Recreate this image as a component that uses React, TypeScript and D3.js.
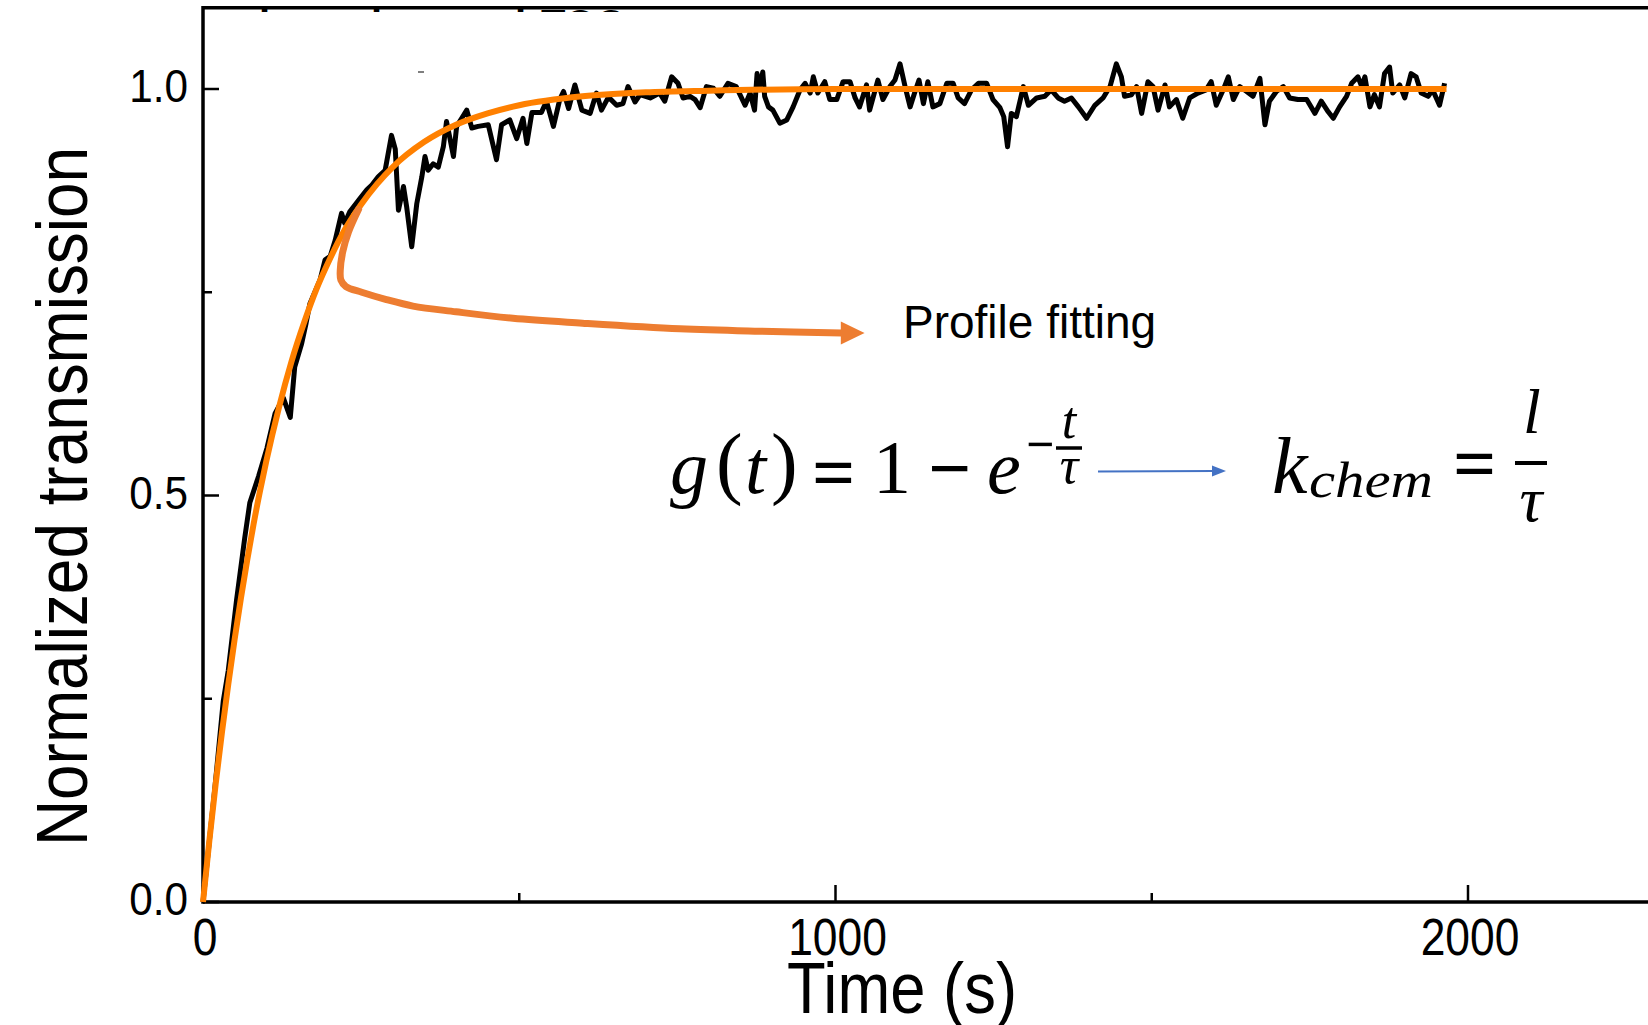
import React from 'react';
import * as d3 from 'd3';

// Measured trace (time in s, normalized transmission)
const timeSec = [0, 19, 32, 40, 53, 66, 74, 88, 101, 114, 127, 138, 145, 156, 163, 169, 185, 193, 201, 209, 219, 224, 232, 246, 259, 267, 277, 288, 298, 304, 309, 317, 322, 330, 338, 346, 351, 356, 364, 372, 380, 385, 390, 396, 401, 409, 417, 425, 435, 451, 464, 472, 485, 496, 506, 512, 520, 535, 543, 554, 564, 570, 578, 588, 599, 612, 622, 630, 641, 654, 664, 672, 683, 691, 707, 722, 730, 741, 751, 759, 770, 778, 786, 796, 807, 817, 830, 843, 857, 865, 872, 876, 880, 885, 888, 894, 901, 912, 923, 933, 944, 952, 960, 965, 972, 983, 991, 1002, 1012, 1023, 1031, 1038, 1049, 1054, 1067, 1075, 1086, 1094, 1102, 1110, 1118, 1125, 1132, 1139, 1146, 1154, 1165, 1176, 1186, 1194, 1204, 1215, 1226, 1239, 1249, 1260, 1266, 1272, 1278, 1286, 1297, 1305, 1318, 1331, 1341, 1352, 1362, 1373, 1384, 1397, 1410, 1423, 1434, 1444, 1452, 1457, 1468, 1476, 1484, 1494, 1502, 1510, 1521, 1528, 1539, 1549, 1560, 1573, 1586, 1594, 1602, 1613, 1621, 1629, 1639, 1650, 1660, 1671, 1679, 1686, 1697, 1708, 1718, 1731, 1745, 1758, 1768, 1779, 1787, 1797, 1808, 1816, 1826, 1832, 1837, 1845, 1852, 1860, 1868, 1876, 1881, 1892, 1900, 1910, 1918, 1926, 1937, 1944, 1955, 1963];
const transmission = [0, 0.142, 0.247, 0.285, 0.371, 0.448, 0.491, 0.524, 0.558, 0.601, 0.62, 0.596, 0.658, 0.687, 0.712, 0.736, 0.765, 0.79, 0.794, 0.814, 0.847, 0.835, 0.849, 0.863, 0.876, 0.882, 0.892, 0.9, 0.943, 0.926, 0.851, 0.88, 0.855, 0.806, 0.859, 0.892, 0.917, 0.9, 0.908, 0.904, 0.929, 0.96, 0.941, 0.917, 0.954, 0.964, 0.974, 0.952, 0.954, 0.956, 0.913, 0.956, 0.962, 0.939, 0.964, 0.933, 0.971, 0.971, 0.985, 0.954, 0.987, 0.997, 0.976, 1.005, 0.974, 0.97, 0.995, 0.974, 0.99, 0.98, 0.982, 1.003, 0.984, 0.993, 0.989, 0.995, 0.985, 1.015, 1.007, 0.989, 0.991, 0.987, 0.977, 1.003, 1.001, 0.991, 1.007, 1.003, 0.98, 0.995, 0.974, 1.019, 0.999, 1.021, 0.991, 0.978, 0.974, 0.958, 0.962, 0.978, 0.999, 1.007, 0.995, 1.015, 0.995, 1.009, 0.987, 0.987, 1.009, 1.009, 0.989, 0.978, 1.005, 0.974, 1.011, 0.987, 1.003, 1.011, 1.031, 1.003, 0.978, 0.995, 1.011, 0.982, 1.009, 0.978, 0.982, 1.007, 1.007, 0.989, 0.982, 0.999, 1.007, 1.007, 0.987, 0.977, 0.966, 0.929, 0.97, 0.966, 1.003, 0.98, 0.989, 0.991, 0.999, 0.989, 0.985, 0.989, 0.978, 0.964, 0.98, 0.989, 1.003, 1.031, 1.015, 0.991, 0.993, 1.003, 0.97, 1.009, 1.003, 0.974, 1.005, 0.978, 0.987, 0.964, 0.989, 0.995, 0.999, 1.009, 0.98, 0.999, 1.015, 0.987, 1.003, 0.997, 0.991, 1.013, 0.956, 0.985, 0.997, 1.003, 0.989, 0.987, 0.987, 0.97, 0.985, 0.972, 0.964, 0.978, 0.991, 1.007, 1.015, 1.003, 1.015, 0.978, 0.993, 0.978, 1.019, 1.027, 0.995, 1.005, 0.989, 1.019, 1.015, 0.995, 0.991, 0.999, 0.98, 1.007];

// Profile fitting curve
const fitTime = [0, 10, 20, 30, 40, 50, 60, 70, 80, 90, 100, 120, 140, 160, 180, 200, 225, 250, 275, 300, 350, 400, 450, 500, 600, 700, 800, 1000, 1200, 1500, 1966];
const fitValue = [0, 0.075, 0.145, 0.209, 0.268, 0.323, 0.374, 0.421, 0.465, 0.505, 0.542, 0.608, 0.665, 0.713, 0.755, 0.79, 0.828, 0.858, 0.883, 0.904, 0.935, 0.956, 0.97, 0.98, 0.991, 0.996, 0.998, 1.0, 1.0, 1.0, 1.0];

// Callout arrow path (time, value)
const calloutTime = [246, 230, 221, 217, 218, 226, 251, 290, 332, 400, 490, 600, 754, 880, 1010];
const calloutValue = [0.852, 0.824, 0.8, 0.777, 0.765, 0.757, 0.75, 0.741, 0.733, 0.726, 0.718, 0.712, 0.705, 0.702, 0.7];
const calloutTip = [1046, 0.7];

const xMajor = [0, 1000, 2000];
const xMajorLabels = ['0', '1000', '2000'];
const xMinor = [500, 1500];
const yMajor = [0, 0.5, 1.0];
const yMajorLabels = ['0.0', '0.5', '1.0'];
const yMinor = [0.25, 0.75];

const SANS = "'Liberation Sans', Arial, sans-serif";
const SERIF = "'Liberation Serif', 'Times New Roman', serif";

export default function App() {
  const W = 1648;
  const H = 1025;
  const x = d3.scaleLinear().domain([0, 2000]).range([203, 1468]);
  const y = d3.scaleLinear().domain([0, 1]).range([902, 89]);
  const yTop = y(1.1);
  const xLeft = x(0);
  const yBottom = y(0);

  const line = d3.line<number[]>().x(d => x(d[0])).y(d => y(d[1]));
  const dataPath = line(timeSec.map((t, i) => [t, transmission[i]])) || '';
  const fitPath = d3.line<number[]>().x(d => x(d[0])).y(d => y(d[1])).curve(d3.curveMonotoneX)(fitTime.map((t, i) => [t, fitValue[i]])) || '';
  const calloutPath = d3.line<number[]>().x(d => x(d[0])).y(d => y(d[1])).curve(d3.curveCatmullRom.alpha(0.5))(calloutTime.map((t, i) => [t, calloutValue[i]])) || '';
  const tipX = x(calloutTip[0]);
  const tipY = y(calloutTip[1]);
  const baseX = x(calloutTime[calloutTime.length - 1]);

  return (
    <svg width={W} height={H} style={{ position: 'absolute', left: 0, top: 0, background: '#fff' }}>
      <defs>
        <clipPath id="topclip">
          <rect x={0} y={4} width={W} height={8} />
        </clipPath>
      </defs>
      <rect x={0} y={0} width={W} height={H} fill="#fff" />

      {/* remnants of cropped text at the very top */}
      <g clipPath="url(#topclip)">
        <text x={259} y={38} fontFamily={SANS} fontWeight="bold" fontSize={40} fill="#000">l</text>
        <text x={371} y={38} fontFamily={SANS} fontWeight="bold" fontSize={40} fill="#000">l</text>
        <text x={515} y={38} fontFamily={SANS} fontWeight="bold" fontSize={40} fill="#000">l</text>
        <text x={541} y={38} fontFamily={SANS} fontWeight="bold" fontSize={40} fill="#000">TOC</text>
      </g>
      <line x1={418} x2={424} y1={72} y2={72} stroke="#555" strokeWidth={1.5} />

      {/* frame */}
      <line x1={xLeft} x2={W} y1={yTop} y2={yTop} stroke="#000" strokeWidth={3.5} />
      <line x1={xLeft} x2={W} y1={yBottom} y2={yBottom} stroke="#000" strokeWidth={3.5} />
      <line x1={xLeft} x2={xLeft} y1={yTop - 1.75} y2={yBottom + 1.75} stroke="#000" strokeWidth={3.5} />

      {/* ticks */}
      {yMajor.map(v => (
        <line key={'ym' + v} x1={xLeft} x2={xLeft + 16} y1={y(v)} y2={y(v)} stroke="#000" strokeWidth={2.5} />
      ))}
      {yMinor.map(v => (
        <line key={'yn' + v} x1={xLeft} x2={xLeft + 9} y1={y(v)} y2={y(v)} stroke="#000" strokeWidth={2.5} />
      ))}
      {xMajor.map(v => (
        <line key={'xm' + v} x1={x(v)} x2={x(v)} y1={yBottom} y2={yBottom - 17} stroke="#000" strokeWidth={2.5} />
      ))}
      {xMinor.map(v => (
        <line key={'xn' + v} x1={x(v)} x2={x(v)} y1={yBottom} y2={yBottom - 9} stroke="#000" strokeWidth={2.5} />
      ))}

      {/* tick labels */}
      {yMajor.map((v, i) => (
        <text key={'yl' + v} transform={`translate(188,${y(v) + 13}) scale(0.9,1)`} textAnchor="end" fontFamily={SANS} fontSize={47} fill="#000">{yMajorLabels[i]}</text>
      ))}
      {xMajor.map((v, i) => (
        <text key={'xl' + v} transform={`translate(${x(v) + 2},955) scale(0.87,1)`} textAnchor="middle" fontFamily={SANS} fontSize={51} fill="#000">{xMajorLabels[i]}</text>
      ))}

      {/* axis titles */}
      <text x={902} y={1013} textAnchor="middle" fontFamily={SANS} fontSize={72} textLength={230} lengthAdjust="spacingAndGlyphs" fill="#000">Time (s)</text>
      <text transform="translate(87,496.5) rotate(-90)" textAnchor="middle" fontFamily={SANS} fontSize={73} textLength={699} lengthAdjust="spacingAndGlyphs" fill="#000">Normalized transmission</text>

      {/* data */}
      <path d={dataPath} fill="none" stroke="#000" strokeWidth={5} strokeLinejoin="round" />
      <path d={fitPath} fill="none" stroke="#FF8000" strokeWidth={6} strokeLinecap="butt" />

      {/* callout */}
      <path d={calloutPath} fill="none" stroke="#ED7D31" strokeWidth={7} strokeLinecap="round" strokeLinejoin="round" />
      <polygon points={`${baseX - 1},${tipY - 11.5} ${tipX},${tipY} ${baseX - 1},${tipY + 11.5}`} fill="#ED7D31" />
      <text x={903} y={338} fontFamily={SANS} fontSize={46} fill="#000">Profile fitting</text>

      {/* formula g(t) = 1 - e^{-t/tau} */}
      <g fill="#000" fontFamily={SERIF}>
        <text x={670} y={493} fontSize={76} fontStyle="italic">g</text>
        <text x={716} y={489} fontSize={80}>(</text>
        <text x={745} y={493} fontSize={76} fontStyle="italic">t</text>
        <text x={771} y={489} fontSize={80}>)</text>
        <text x={812} y={498} fontSize={76} fontWeight="bold">=</text>
        <text x={873} y={493} fontSize={76}>1</text>
        <text x={928} y={494} fontSize={76} fontWeight="bold">−</text>
        <text x={987} y={493} fontSize={76} fontStyle="italic">e</text>
        <text x={1026} y={461} fontSize={50} fontWeight="bold">−</text>
        <text x={1069} y={438} fontSize={52} fontStyle="italic" textAnchor="middle">t</text>
        <line x1={1056} x2={1082} y1={448} y2={448} stroke="#000" strokeWidth={3.5} />
        <text x={1069} y={483} fontSize={52} fontStyle="italic" textAnchor="middle">τ</text>
      </g>
      <line x1={1098} x2={1214} y1={471.5} y2={471} stroke="#4472C4" strokeWidth={2} />
      <polygon points="1212,465.5 1226,471 1212,476.5" fill="#4472C4" />
      <g fill="#000" fontFamily={SERIF}>
        <text x={1272} y={493} fontSize={80} fontStyle="italic">k</text>
        <text x={1309} y={497} fontSize={50} fontStyle="italic" textLength={124} lengthAdjust="spacingAndGlyphs">chem</text>
        <text x={1453} y={489} fontSize={76} fontWeight="bold">=</text>
        <text x={1532} y={433} fontSize={64} fontStyle="italic" textAnchor="middle">l</text>
        <line x1={1515} x2={1547} y1={463} y2={463} stroke="#000" strokeWidth={4} />
        <text x={1531} y={521} fontSize={64} fontStyle="italic" textAnchor="middle">τ</text>
      </g>
    </svg>
  );
}
